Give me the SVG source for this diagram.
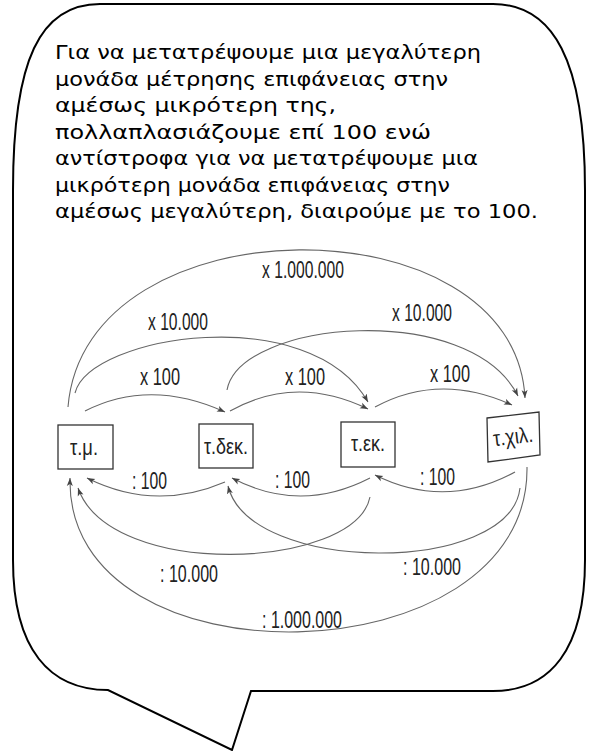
<svg xmlns="http://www.w3.org/2000/svg" width="593" height="751" viewBox="0 0 593 751">
<defs>
<marker id="ah" markerWidth="9" markerHeight="7" refX="8" refY="3.5" orient="auto" markerUnits="userSpaceOnUse">
<path d="M0,0.5 L8,3.5 L0,6.5 L2,3.5 z" fill="#444"/>
</marker>
<style>
.bubble{fill:#fff;stroke:#000;stroke-width:2}
.para{font-family:"DejaVu Sans","Noto Sans",sans-serif;font-size:20px;fill:#000}
.arc{fill:none;stroke:#666;stroke-width:1.1;marker-end:url(#ah)}
.box{fill:#fff;stroke:#333;stroke-width:1.3}
.lbl{font-family:"Liberation Sans Narrow","Liberation Sans",sans-serif;font-size:24px;fill:#222}
.nt{font-family:"Liberation Sans Narrow","Liberation Sans",sans-serif;font-size:22px;fill:#222}
</style>
</defs>
<rect width="593" height="751" fill="#fff"/>
<g id="bubble">
<path class="bubble" d="M100,4 L493,4 C553,4 585,60 585,190 L585,560 C585,650 550,691 493,691 L251,691 L232,750 L108,690 C50,690 13,650 13,560 L13,190 C13,60 40,4 100,4 Z"/>
<text class="para" x="55" y="59" textLength="426" lengthAdjust="spacingAndGlyphs">Για να μετατρέψουμε μια μεγαλύτερη</text>
<text class="para" x="55" y="85.5" textLength="393" lengthAdjust="spacingAndGlyphs">μονάδα μέτρησης επιφάνειας στην</text>
<text class="para" x="55" y="112" textLength="281" lengthAdjust="spacingAndGlyphs">αμέσως μικρότερη της,</text>
<text class="para" x="55" y="138.5" textLength="376" lengthAdjust="spacingAndGlyphs">πολλαπλασιάζουμε επί 100 ενώ</text>
<text class="para" x="55" y="165" textLength="423" lengthAdjust="spacingAndGlyphs">αντίστροφα για να μετατρέψουμε μια</text>
<text class="para" x="55" y="191.5" textLength="395" lengthAdjust="spacingAndGlyphs">μικρότερη μονάδα επιφάνειας στην</text>
<text class="para" x="55" y="218" textLength="483" lengthAdjust="spacingAndGlyphs">αμέσως μεγαλύτερη, διαιρούμε με το 100.</text>
</g>
<g id="connectors">
<path class="arc" d="M85,411 Q150,378 225,412"/>
<path class="arc" d="M230,411 Q296,374 368,409"/>
<path class="arc" d="M375,407 Q440,372 512,405"/>
<path class="arc" d="M75,393 C90,335 310,300 368,402"/>
<path class="arc" d="M227,390 C240,320 470,300 518,396"/>
<path class="arc" d="M68,407 C85,199 515,199 525,398"/>
<path class="arc" d="M225,482 Q155,512 87,478"/>
<path class="arc" d="M370,478 Q300,514 232,478"/>
<path class="arc" d="M515,472 Q445,510 375,475"/>
<path class="arc" d="M370,497 C355,570 110,580 78,488"/>
<path class="arc" d="M520,488 C510,575 250,575 228,486"/>
<path class="arc" d="M527,467 C530,680 65,690 70,478"/>
<g id="labels">
<text class="lbl" x="262" y="278" textLength="82" lengthAdjust="spacingAndGlyphs">x 1.000.000</text>
<text class="lbl" x="148" y="330" textLength="60" lengthAdjust="spacingAndGlyphs">x 10.000</text>
<text class="lbl" x="392" y="321" textLength="60" lengthAdjust="spacingAndGlyphs">x 10.000</text>
<text class="lbl" x="140" y="385" textLength="40" lengthAdjust="spacingAndGlyphs">x 100</text>
<text class="lbl" x="285" y="385" textLength="40" lengthAdjust="spacingAndGlyphs">x 100</text>
<text class="lbl" x="430" y="382" textLength="40" lengthAdjust="spacingAndGlyphs">x 100</text>
<text class="lbl" x="132" y="489" textLength="35" lengthAdjust="spacingAndGlyphs">: 100</text>
<text class="lbl" x="275" y="488" textLength="35" lengthAdjust="spacingAndGlyphs">: 100</text>
<text class="lbl" x="420" y="485" textLength="35" lengthAdjust="spacingAndGlyphs">: 100</text>
<text class="lbl" x="160" y="582" textLength="58" lengthAdjust="spacingAndGlyphs">: 10.000</text>
<text class="lbl" x="403" y="575" textLength="58" lengthAdjust="spacingAndGlyphs">: 10.000</text>
<text class="lbl" x="262" y="628" textLength="80" lengthAdjust="spacingAndGlyphs">: 1.000.000</text>
</g>
</g>
<g id="node-tm">
<rect class="box" x="58" y="425" width="55" height="44"/>
<text class="nt" x="70" y="455" textLength="28" lengthAdjust="spacingAndGlyphs">τ.μ.</text>
</g>
<g id="node-tdek">
<rect class="box" x="199" y="424" width="54" height="44"/>
<text class="nt" x="204" y="454" textLength="44" lengthAdjust="spacingAndGlyphs">τ.δεκ.</text>
</g>
<g id="node-tek">
<rect class="box" x="341" y="422" width="54" height="45"/>
<text class="nt" x="351" y="451" textLength="34" lengthAdjust="spacingAndGlyphs">τ.εκ.</text>
</g>
<g id="node-txil">
<path class="box" d="M487,418 L539,412 L540,455 L488,462 Z"/>
<text class="nt" x="493" y="444" textLength="40" lengthAdjust="spacingAndGlyphs" transform="rotate(-6.5 513 437)">τ.χιλ.</text>
</g>
</svg>
